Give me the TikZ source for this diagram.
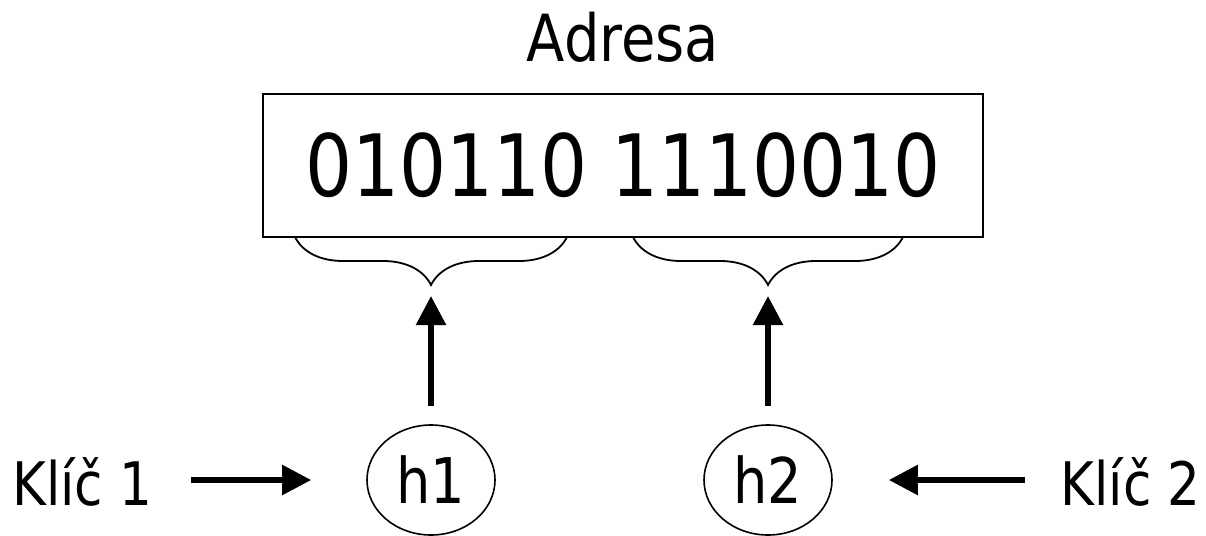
\documentclass[tikz,border=0pt]{standalone}
\usepackage{fontspec}
\setmainfont{DejaVu Sans}[FakeStretch=0.86]
\usetikzlibrary{decorations.pathreplacing,arrows.meta,shapes.geometric}
\tikzset{
  lbl/.style={inner sep=0pt, font=\fontsize{60}{70}\selectfont},
  hashnode/.style={draw, line width=1.6pt, ellipse, minimum width=128pt, minimum height=110pt, inner sep=0pt, font=\fontsize{63}{73}\selectfont},
  addrbox/.style={draw, line width=1.6pt, rectangle, minimum width=720pt, minimum height=143pt, inner sep=0pt, font=\fontsize{86}{96}\selectfont},
  bracedec/.style={decorate, decoration={brace, mirror, amplitude=48pt}, line width=1.8pt},
  bigarrow/.style={line width=5.5pt, -{Triangle[length=29pt,width=29pt]}},
}
\begin{document}
\begin{tikzpicture}[x=1pt,y=-1pt]
\useasboundingbox (0,0) rectangle (1206,535);
\node[lbl, font=\fontsize{65}{75}\selectfont, anchor=base] (title) at (623,62) {Adresa};
\node[addrbox] (addr) at (623,165.5) {\raisebox{-3pt}{010110 1110010}};
\coordinate (b1s) at (295,237);
\coordinate (b1e) at (567,237);
\coordinate (b2s) at (633,237);
\coordinate (b2e) at (903,237);
\coordinate (t1) at (431,285);
\coordinate (t2) at (768,285);
\draw[bracedec] (b1s) -- (b1e);
\draw[bracedec] (b2s) -- (b2e);
\node[hashnode] (h1) at (431,480) {h1};
\node[hashnode] (h2) at (768,480) {h2};
\node[lbl, anchor=base west] (k1) at (12,505) {Klíč 1};
\node[lbl, anchor=base east] (k2) at (1201,505) {Klíč 2};
\draw[bigarrow, shorten <=18pt, shorten >=11pt] (h1.north) -- (t1);
\draw[bigarrow, shorten <=18pt, shorten >=11pt] (h2.north) -- (t2);
\draw[bigarrow, shorten <=38pt, shorten >=55pt] (k1.east |- h1.center) -- (h1.west);
\draw[bigarrow, shorten <=36pt, shorten >=56pt] (k2.west |- h2.center) -- (h2.east);
\end{tikzpicture}
\end{document}
